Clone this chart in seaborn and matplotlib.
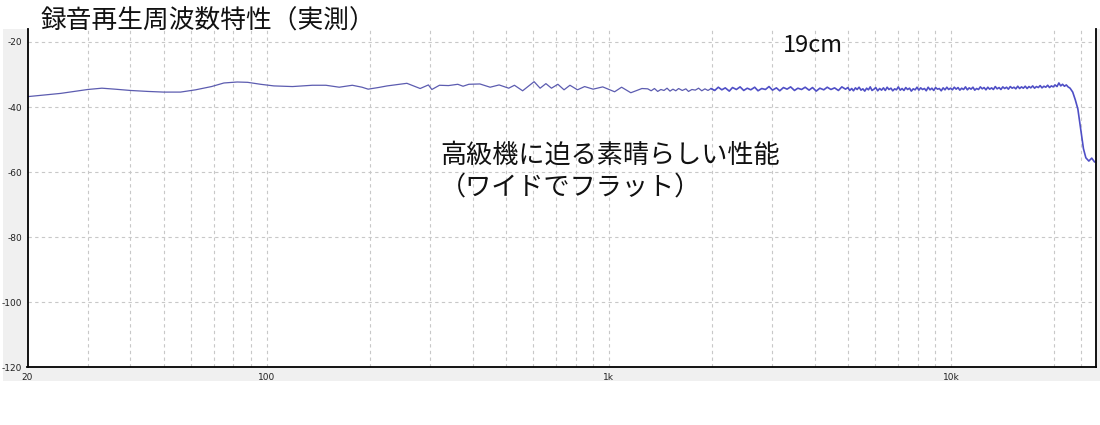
import numpy as np
import pandas as pd
import matplotlib
matplotlib.use('Agg')
import matplotlib.pyplot as plt
import matplotlib.ticker as mticker
from matplotlib.patches import Rectangle
import seaborn as sns

# 読み取った測定値 (Hz, dB)
freq_low = [20, 25, 30, 33, 36, 40, 45, 50, 56, 62, 69, 75, 82, 88, 96,
            105, 119, 136, 149, 163, 178, 190, 198, 212, 225, 257, 281, 297,
            304, 320, 340, 362, 375, 390, 420, 450, 478, 510, 530, 560, 605,
            630, 655, 680, 710, 740, 770, 810, 850, 900, 960, 1040, 1090,
            1160, 1250]
level_low = [-36.8, -35.8, -34.6, -34.2, -34.5, -34.9, -35.2, -35.4, -35.4,
             -34.7, -33.7, -32.6, -32.3, -32.4, -33.0, -33.5, -33.7, -33.3,
             -33.3, -33.9, -33.3, -33.9, -34.5, -34.0, -33.5, -32.7, -34.3,
             -33.2, -34.6, -33.3, -33.4, -33.0, -33.6, -33.0, -32.9, -33.9,
             -33.2, -34.2, -33.3, -35.0, -32.2, -34.2, -32.8, -34.2, -33.0,
             -34.7, -33.3, -34.7, -33.7, -34.5, -33.8, -35.3, -33.9, -35.6,
             -34.3]

freq_1k = [1300, 1330, 1360, 1390, 1420, 1450, 1480, 1510, 1540, 1570, 1600,
           1640, 1680, 1710, 1750, 1790, 1830, 1870, 1910, 1950, 1990]
level_1k = [-34.4, -35.0, -34.3, -35.2, -34.6, -34.9, -34.2, -35.1, -34.5,
            -35.0, -34.3, -34.9, -34.4, -35.2, -34.6, -34.8, -34.2, -35.0,
            -34.4, -34.9, -34.3]

freq_2k = [2040, 2090, 2140, 2190, 2250, 2300, 2360, 2420, 2480, 2540, 2600,
           2670, 2730, 2800, 2870, 2940, 3010, 3090, 3160, 3240, 3320, 3400,
           3490, 3570, 3660, 3750, 3850, 3940, 4040, 4140, 4250, 4350, 4460,
           4570, 4690, 4800, 4920]
level_2k = [-34.9, -33.9, -34.7, -34.1, -35.1, -34.0, -34.6, -33.8, -34.9,
            -34.2, -34.7, -33.9, -35.0, -34.3, -34.6, -33.7, -34.8, -34.1,
            -35.0, -34.0, -34.5, -33.8, -34.9, -34.2, -34.6, -33.9, -34.8,
            -34.0, -35.1, -34.2, -34.7, -33.9, -34.6, -34.1, -34.9, -33.8,
            -34.5]

freq_5k = [5000, 5060, 5130, 5190, 5260, 5320, 5390, 5460, 5530, 5600,
           5670, 5740, 5810, 5880, 5960, 6030, 6110, 6190, 6270, 6350,
           6430, 6510, 6590, 6680, 6760, 6850, 6930, 7020, 7110, 7200,
           7290, 7380, 7470, 7570, 7660, 7760, 7860, 7960, 8060, 8160,
           8260, 8370, 8470, 8580, 8690, 8800, 8910, 9020, 9140, 9250,
           9370, 9490, 9610, 9730, 9850, 9970]
level_5k = [-34.0, -34.9, -34.3, -35.0, -34.1, -34.6, -33.9, -34.8, -34.4, -35.1,
            -34.2, -34.7, -33.8, -34.9, -34.5, -34.0, -35.0, -34.3, -34.8, -34.1,
            -34.9, -33.9, -34.6, -34.2, -35.0, -34.4, -34.7, -33.8, -34.8, -34.3,
            -34.9, -34.0, -34.6, -34.2, -35.1, -34.4, -34.7, -33.9, -34.8, -34.1,
            -34.6, -34.3, -35.0, -33.9, -34.7, -34.2, -34.9, -34.0, -34.5, -34.3,
            -35.0, -34.1, -34.7, -33.9, -34.6, -34.2]

freq_10k = [10100, 10230, 10360, 10490, 10620, 10750, 10890, 11030, 11170, 11310,
            11450, 11600, 11740, 11890, 12040, 12190, 12350, 12500, 12660, 12820,
            12980, 13150, 13310, 13480, 13650, 13830, 14000, 14180, 14360, 14540,
            14720, 14910, 15100, 15290, 15480, 15680, 15880, 16080, 16280, 16490,
            16700, 16910, 17120, 17340, 17560, 17780, 18010, 18230, 18460, 18700,
            18940, 19180, 19420, 19660, 19910, 20160, 20420, 20680, 20940, 21200,
            21470, 21740]
level_10k = [-34.7, -33.9, -34.5, -34.0, -34.8, -34.2, -34.6, -33.8, -34.7, -34.1,
             -34.5, -33.9, -34.8, -34.3, -34.6, -33.8, -34.4, -34.0, -34.7, -33.9,
             -34.5, -34.1, -34.6, -33.7, -34.4, -34.0, -34.6, -33.8, -34.3, -33.9,
             -34.5, -33.7, -34.2, -33.9, -34.4, -33.6, -34.3, -33.8, -34.2, -33.6,
             -34.3, -33.7, -34.1, -33.5, -34.2, -33.7, -34.0, -33.4, -34.1, -33.6,
             -33.9, -33.3, -34.0, -33.5, -33.8, -33.2, -33.7, -32.6, -33.5, -33.0,
             -33.6, -33.2]

# 高域のロールオフ
freq_top = [22000, 22300, 22700, 23100, 23500, 23900, 24400, 24800, 25300,
            25800, 26300]
level_top = [-33.8, -34.2, -35.4, -37.8, -40.6, -46.0, -52.8, -55.6, -56.6,
             -55.7, -56.9]

x_major = [20, 100, 1000, 10000]
x_major_labels = ['20', '100', '1k', '10k']
x_minor = [30, 40, 50, 60, 70, 80, 90, 200, 300, 400, 500, 600, 700, 800,
           900, 2000, 3000, 4000, 5000, 6000, 7000, 8000, 9000, 20000, 24000]
y_ticks = [-120, -100, -80, -60, -40, -20]
y_tick_labels = ['-120', '-100', '-80', '-60', '-40', '-20']

title = '録音再生周波数特性（実測）'
speed_label = '19cm'
note_line1 = '高級機に迫る素晴らしい性能'
note_line2 = '（ワイドでフラット）'

df = pd.DataFrame({
    'freq': freq_low + freq_1k + freq_2k + freq_5k + freq_10k + freq_top,
    'level': level_low + level_1k + level_2k + level_5k + level_10k + level_top,
})
df_low = df[df['freq'] <= 2040]
df_high = df[df['freq'] >= 1990]

sns.set_style('white')
plt.rcParams['font.family'] = ['Noto Sans CJK JP', 'DejaVu Sans']
plt.rcParams['axes.unicode_minus'] = False

fig = plt.figure(figsize=(11, 4.25), dpi=100, facecolor='white')
# グレーのパネル (軸の後ろ)
fig.patches.append(Rectangle((0.0027, 0.1047), 0.9973, 0.8271,
                             transform=fig.transFigure, facecolor='#f0f0f0',
                             edgecolor='none', zorder=-10))
ax = fig.add_axes([0.025, 0.1358, 0.97136, 0.796])
ax.set_zorder(1)
ax.set_facecolor('white')

sns.lineplot(data=df_low, x='freq', y='level', ax=ax, color='#5c5cb0',
             linewidth=0.9, estimator=None, sort=True)
sns.lineplot(data=df_high, x='freq', y='level', ax=ax, color='#4f4fc6',
             linewidth=1.2, estimator=None, sort=True)

ax.set_xscale('log')
ax.set_xlim(20, 26550)
ax.set_ylim(-120, -16.0)

ax.xaxis.set_major_locator(mticker.FixedLocator(x_major))
ax.xaxis.set_major_formatter(mticker.FixedFormatter(x_major_labels))
ax.xaxis.set_minor_locator(mticker.FixedLocator(x_minor))
ax.xaxis.set_minor_formatter(mticker.NullFormatter())
ax.set_yticks(y_ticks)
ax.set_yticklabels(y_tick_labels)

grid_kw = dict(color='#c8c8c8', linestyle=(0, (3, 3)), linewidth=0.8)
ax.grid(True, which='both', axis='x', **grid_kw)
ax.grid(True, which='major', axis='y', **grid_kw)

ax.tick_params(axis='both', which='both', direction='out', length=3,
               width=0.8, color='#555555', labelsize=6.5, labelcolor='#222222',
               pad=1)
ax.tick_params(axis='x', which='minor', length=3, color='#bbbbbb')
for lab in ax.get_xticklabels() + ax.get_yticklabels():
    lab.set_family(['DejaVu Sans'])

for side in ['left', 'bottom', 'right']:
    ax.spines[side].set_visible(True)
    ax.spines[side].set_color('black')
    ax.spines[side].set_linewidth(1.3)
ax.spines['top'].set_visible(False)
ax.set_xlabel('')
ax.set_ylabel('')

fig.text(41 / 1100, 1 - 22 / 425, title, fontsize=18.5, va='center',
         ha='left', color='#111111', zorder=5)
fig.text(783 / 1100, 1 - 45 / 425, speed_label, fontsize=17, va='center',
         ha='left', color='#111111', zorder=5)
fig.text(440 / 1100, 1 - 155 / 425, note_line1, fontsize=18.8, va='center',
         ha='left', color='#111111', zorder=5)
fig.text(440 / 1100, 1 - 187 / 425, note_line2, fontsize=18.8, va='center',
         ha='left', color='#111111', zorder=5)

fig.savefig('out.png', dpi=100, facecolor='white')
